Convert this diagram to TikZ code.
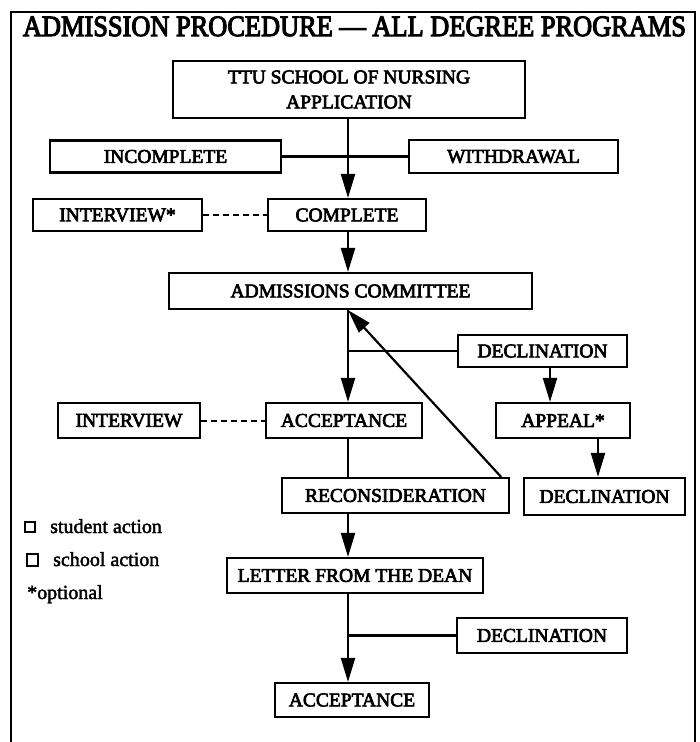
\documentclass[tikz,border=0pt]{standalone}
\usepackage{fontspec}
\setmainfont{Liberation Serif}[FakeBold=3.5]
\newfontfamily\titlefont{Liberation Serif}[FakeBold=4]
\newfontfamily\legfont{Liberation Serif}[FakeBold=2]
\usetikzlibrary{arrows.meta}
\tikzset{
  box/.style={draw, line width=2.2pt, inner sep=0pt, font=\fontsize{19.5}{25}\selectfont, align=center},
  flow/.style={line width=2.2pt, -{Triangle[length=24pt,width=14pt]}},
  plain/.style={line width=2.2pt},
  dash line/.style={line width=2pt, dash pattern=on 6pt off 4pt},
  legsq/.style={draw, line width=2pt, inner sep=0pt},
  legtext/.style={anchor=base west, inner sep=0pt, font=\legfont\fontsize{20}{24}\selectfont}
}
\begin{document}
\begin{tikzpicture}[x=1pt,y=-1pt]
\useasboundingbox (0,0) rectangle (700,742);
% frame
\draw[line width=2.4pt] (11,742) -- (11,12) -- (695,12) -- (695,742);
% title
\node[anchor=base, inner sep=0pt] (title) at (354.5,36) {\titlefont\resizebox{663pt}{19.5pt}{ADMISSION PROCEDURE — ALL DEGREE PROGRAMS}};
% column coordinates
\coordinate (colx) at (348,0);
\coordinate (colr) at (550,0);
\coordinate (cold) at (598,0);
% boxes
\node[box, minimum width=352pt, minimum height=57pt] (ttu) at (349,89.5) {TTU SCHOOL OF NURSING\\APPLICATION};
\node[box, minimum width=231pt, minimum height=32pt] (inc) at (165.5,156.5) {INCOMPLETE};
\node[box, minimum width=209pt, minimum height=33pt] (with) at (513.5,156.5) {WITHDRAWAL};
\node[box, minimum width=169pt, minimum height=32pt] (intv1) at (117.5,215) {INTERVIEW*};
\node[box, minimum width=158pt, minimum height=32pt] (compl) at (347,215) {COMPLETE};
\node[box, minimum width=363pt, minimum height=36pt] (adm) at (350.5,291) {ADMISSIONS COMMITTEE};
\node[box, minimum width=169pt, minimum height=32pt] (dec1) at (542.5,351) {DECLINATION};
\node[box, minimum width=142pt, minimum height=35pt] (intv2) at (129,420.5) {INTERVIEW};
\node[box, minimum width=156pt, minimum height=35pt] (acc1) at (344,420.5) {ACCEPTANCE};
\node[box, minimum width=134pt, minimum height=35pt] (appeal) at (563,420.5) {APPEAL*};
\node[box, minimum width=227pt, minimum height=35pt] (recon) at (395.5,495.5) {RECONSIDERATION};
\node[box, minimum width=161pt, minimum height=37pt] (dec2) at (604.5,496.5) {DECLINATION};
\node[box, minimum width=256pt, minimum height=35pt] (letter) at (355,575.5) {LETTER FROM THE DEAN};
\node[box, minimum width=170pt, minimum height=35pt] (dec3) at (542,635.5) {DECLINATION};
\node[box, minimum width=154pt, minimum height=34pt] (acc2) at (352,700) {ACCEPTANCE};
% connectors
\draw[flow] (ttu.south -| colx) -- (compl.north -| colx);
\draw[plain] (inc.east) -- (with.west);
\draw[dash line] (intv1.east) -- (compl.west);
\draw[flow] (compl.south -| colx) -- (adm.north -| colx);
\draw[flow] (adm.south -| colx) -- (acc1.north -| colx);
\draw[plain] (dec1.west) -- (dec1.west -| colx);
\draw[flow] (dec1.south -| colr) -- (appeal.north -| colr);
\draw[flow] (appeal.south -| cold) -- (dec2.north -| cold);
\draw[dash line] (intv2.east) -- (acc1.west);
\draw[plain] (acc1.south -| colx) -- (recon.north -| colx);
\draw[flow] ([xshift=-9pt]recon.north east) -- (adm.south -| colx);
\draw[flow] (recon.south -| colx) -- (letter.north -| colx);
\draw[flow] (letter.south -| colx) -- (acc2.north -| colx);
\draw[plain] (dec3.west) -- (dec3.west -| colx);
% legend
\node[legsq, minimum width=10pt, minimum height=10pt] (sq1) at (30,527) {};
\node[legsq, minimum width=11pt, minimum height=12pt] (sq2) at (32.5,560) {};
\node[legtext] (lt1) at (50,533) {student action};
\node[legtext] (lt2) at (53,566) {school action};
\node[legtext] (lt3) at (27,599) {*optional};
\end{tikzpicture}
\end{document}
